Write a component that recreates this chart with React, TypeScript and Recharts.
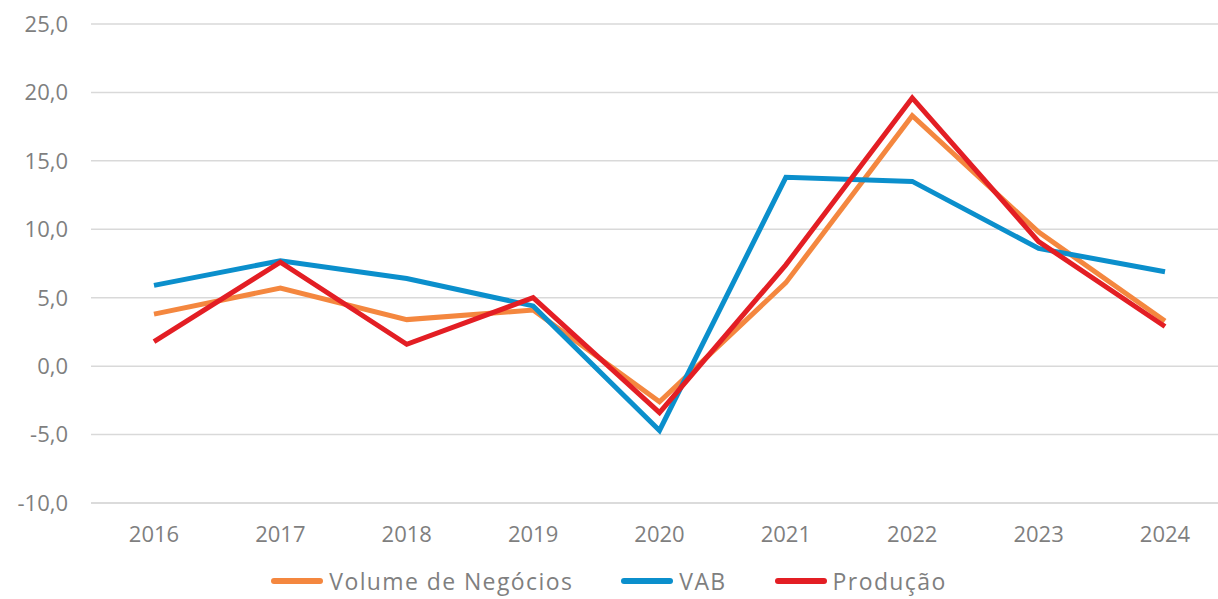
import { CartesianGrid, Legend, Line, LineChart, XAxis, YAxis } from "recharts"

const years = ["2016", "2017", "2018", "2019", "2020", "2021", "2022", "2023", "2024"]
const volumeNegocios = [3.8, 5.7, 3.4, 4.1, -2.6, 6.1, 18.3, 9.8, 3.3]
const vab = [5.9, 7.7, 6.4, 4.4, -4.7, 13.8, 13.5, 8.6, 6.9]
const producao = [1.8, 7.6, 1.6, 5.0, -3.4, 7.4, 19.6, 9.1, 2.9]
const yTicks = [-10, -5, 0, 5, 10, 15, 20, 25]

const series = [
  { key: "volume", name: "Volume de Negócios", color: "#F4873F" },
  { key: "vab", name: "VAB", color: "#0B8FCC" },
  { key: "producao", name: "Produção", color: "#E31E24" },
]

const data = years.map((year, i) => ({
  year,
  volume: volumeNegocios[i],
  vab: vab[i],
  producao: producao[i],
}))

const font = "'Open Sans', sans-serif"
const textColor = "#7f7f7f"

function ChartLegend() {
  return (
    <div style={{ display: "flex", justifyContent: "center", paddingTop: 8, fontFamily: font, fontSize: 23, letterSpacing: 1.4, color: textColor, lineHeight: "28px" }}>
      {series.map((s) => (
        <div key={s.key} style={{ display: "flex", alignItems: "center", margin: "0 24px" }}>
          <span style={{ display: "inline-block", width: 52, height: 6, borderRadius: 3, background: s.color, marginRight: 6 }} />
          <span>{s.name}</span>
        </div>
      ))}
    </div>
  )
}

export default function App() {
  return (
    <div style={{ position: "fixed", left: 0, top: 0, background: "#fff" }}>
      <LineChart width={1218} height={599} data={data} margin={{ top: 24, right: 0, bottom: 0, left: 0 }}>
        <CartesianGrid vertical={false} stroke="#d9d9d9" strokeWidth={1.5} />
        <XAxis
          dataKey="year"
          padding={{ left: 63, right: 53 }}
          axisLine={{ stroke: "#d9d9d9", strokeWidth: 1.5 }}
          tickLine={false}
          tickSize={0}
          tickMargin={23}
          height={56}
          tick={{ fill: textColor, fontSize: 22, fontFamily: font }}
        />
        <YAxis
          domain={[-10, 25]}
          ticks={yTicks}
          width={91}
          axisLine={false}
          tickLine={false}
          tickSize={0}
          tickMargin={23}
          tickFormatter={(v: number) => v.toFixed(1).replace(".", ",")}
          tick={{ fill: textColor, fontSize: 22, fontFamily: font }}
        />
        <Legend verticalAlign="bottom" height={40} content={() => <ChartLegend />} />
        {series.map((s) => (
          <Line
            key={s.key}
            type="linear"
            dataKey={s.key}
            name={s.name}
            stroke={s.color}
            strokeWidth={5}
            dot={false}
            isAnimationActive={false}
          />
        ))}
      </LineChart>
    </div>
  )
}
